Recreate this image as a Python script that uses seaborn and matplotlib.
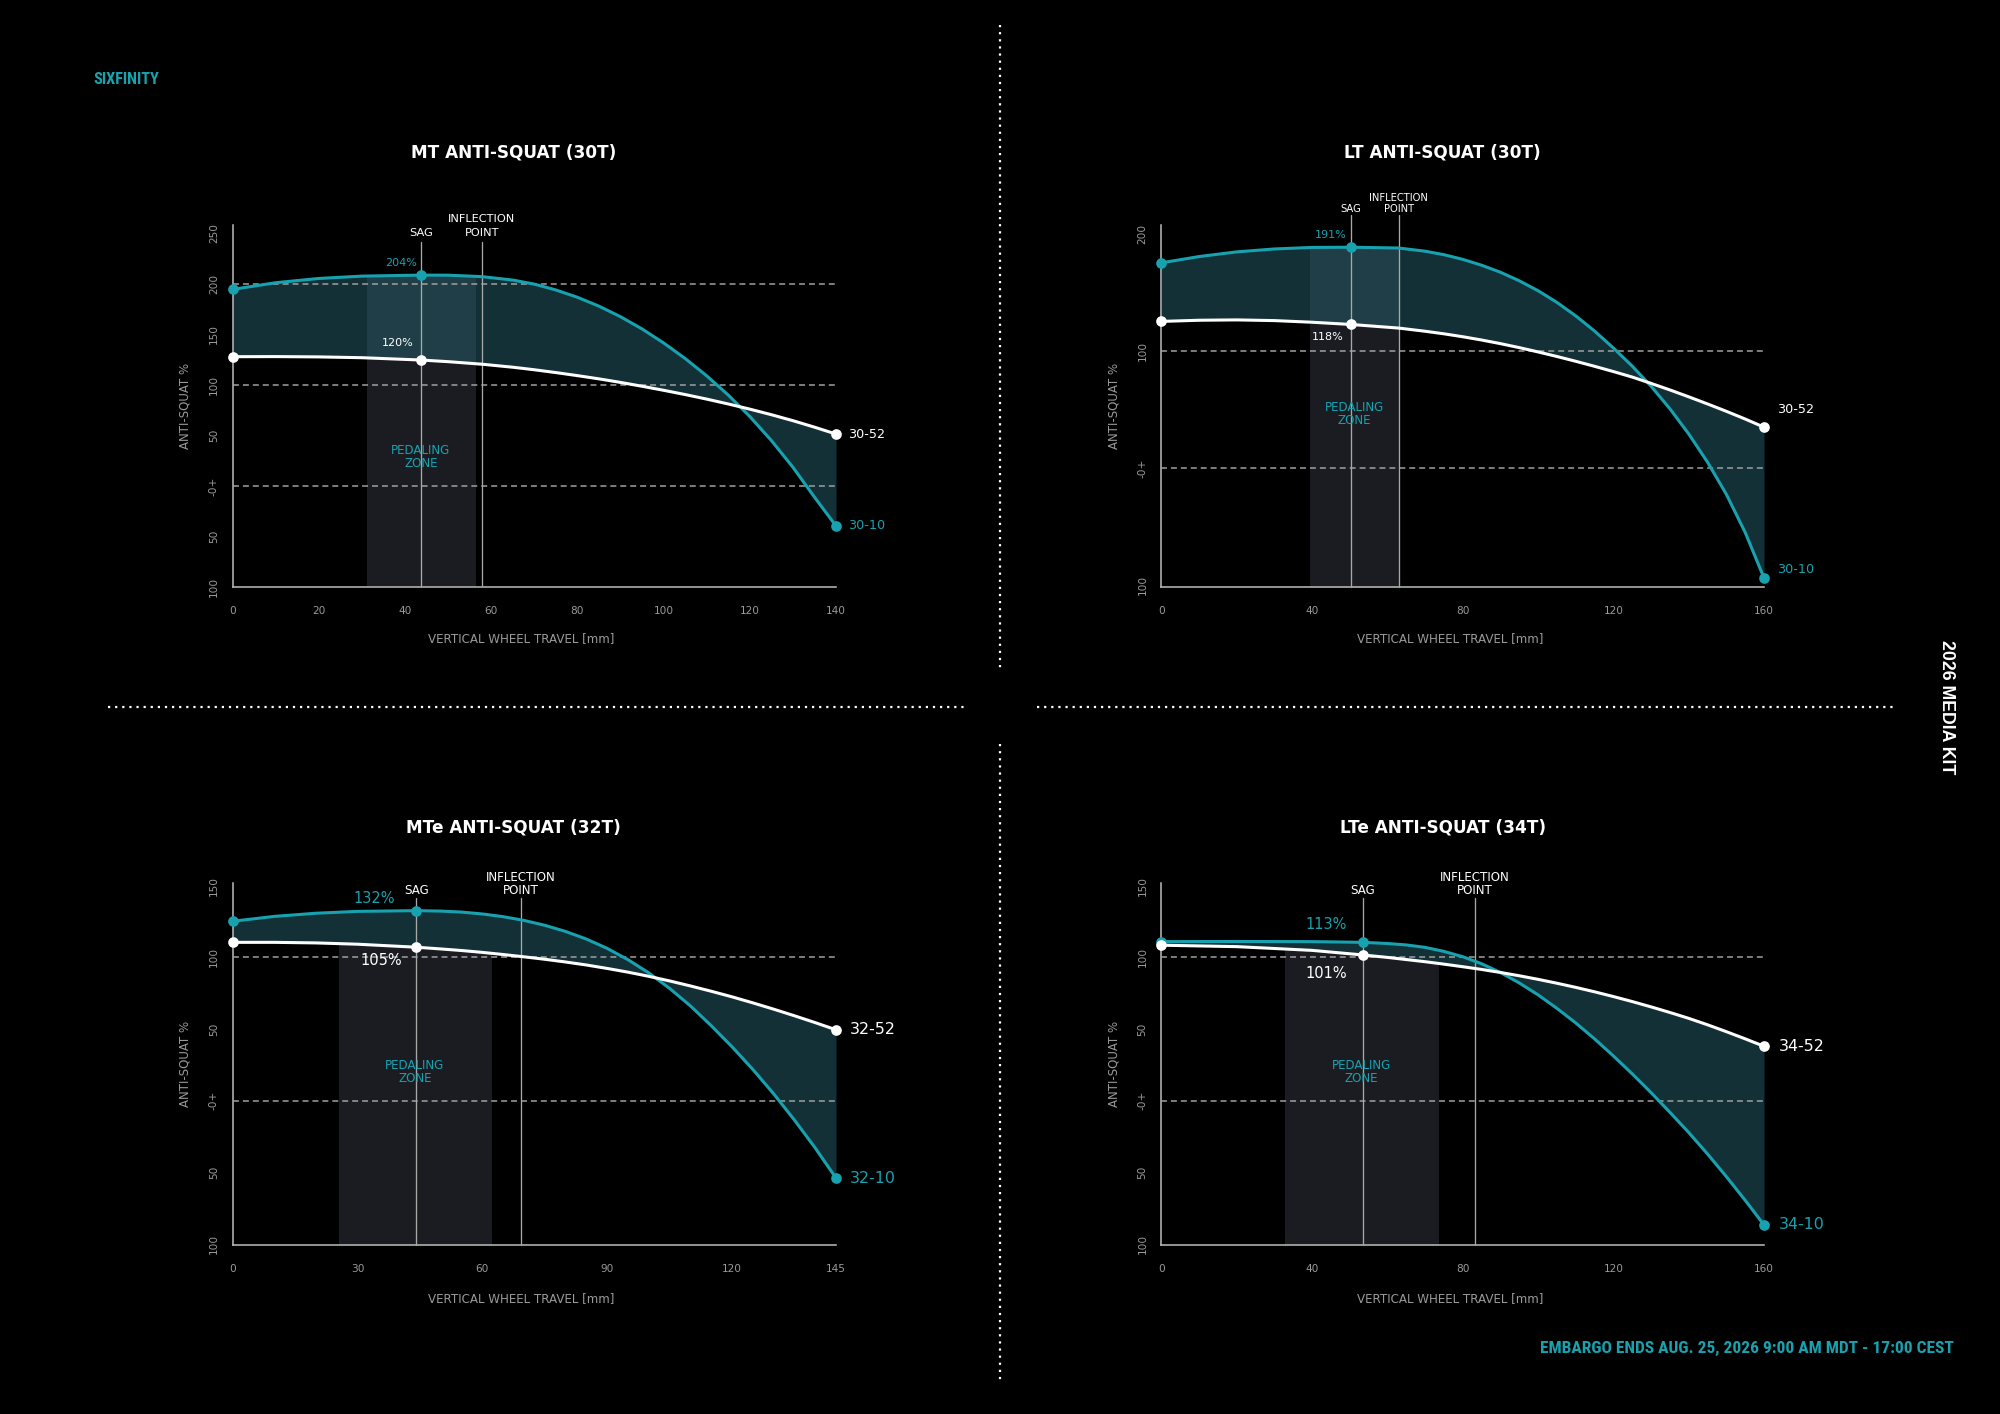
import matplotlib
matplotlib.use("Agg")
from matplotlib import pyplot as plt
from matplotlib import font_manager
from matplotlib.patches import Rectangle
import seaborn as sns
import pandas as pd

TEAL = "#18a2af"
BAND = "#26606e"
ZONE = "#1b1c21"
GRID = "#a0a0a0"
AXIS = "#bdbdbd"
MUTED = "#9a9a9a"
W, H = 2000, 1414

# ---------------- data ----------------
titles = ["MT ANTI-SQUAT (30T)", "LT ANTI-SQUAT (30T)",
          "MTe ANTI-SQUAT (32T)", "LTe ANTI-SQUAT (34T)"]

mt_travel = [0, 10, 20, 30, 43.7, 50, 57.8, 65, 70, 75, 80, 85, 90, 95, 100,
             105, 110, 115, 120, 125, 130, 135, 140]
mt_as_10 = [194.4, 201, 205.2, 207.5, 208.5, 208.4, 207.0, 203.6, 199.6, 193.8, 186.6, 177.8,
            167.4, 155.3, 141.5, 126.1, 109.0, 90.0, 68.8, 45.1, 18.7, -10.8, -39.3]
mt_as_52 = [127.9, 128.0, 127.7, 126.9, 124.6, 123.0, 120.5, 117.5, 115.0, 112.2, 109.2, 106.0,
            102.5, 98.7, 94.7, 90.5, 86.0, 81.2, 76.1, 70.6, 64.7, 58.3, 51.5]

lt_travel = [0, 10, 20, 30, 40, 50.3, 63, 70, 75, 80, 85, 90, 95, 100, 105, 110,
             115, 120, 125, 130, 135, 140, 145, 150, 155, 160]
lt_as_10 = [175.6, 181, 185, 187.5, 188.8, 189, 188.3, 185.6, 182.6, 178.6, 173.6, 167.6, 160.3,
            151.8, 141.8, 130.3, 117.3, 102.8, 87.3, 70.1, 50.8, 29.3, 5.1, -22.4, -55, -94]
lt_as_52 = [125.5, 126.5, 126.8, 126.2, 124.8, 122.9, 119.8, 117.1, 114.9, 112.4, 109.6, 106.5,
            103.1, 99.4, 95.5, 91.4, 87.1, 82.6, 77.9, 72.5, 66.9, 61.0, 54.9, 48.6, 42.0, 35.0]

mte_travel = [0, 10, 20, 30, 44.1, 50, 55, 60, 65, 70, 75, 80, 85, 90, 95, 100,
              105, 110, 115, 120, 125, 130, 135, 140, 145]
mte_as_10 = [125.1, 128.5, 130.7, 132, 132.5, 132.2, 131.5, 130.2, 128.3, 125.7, 122.3, 118,
             112.7, 106.2, 98.3, 89.1, 78.3, 66.1, 52.3, 37.6, 21.8, 4.8, -13.5, -33, -54]
mte_as_52 = [110.4, 110.4, 110.0, 109.1, 107, 105.8, 104.7, 103.4, 101.9, 100.3, 98.6, 96.7,
             94.6, 92.2, 89.6, 86.7, 83.5, 80, 76.3, 72.4, 68.2, 63.8, 59.2, 54.4, 49.4]

lte_travel = [0, 20, 40, 53.5, 60, 65, 70, 75, 80, 85, 90, 95, 100, 105, 110, 115,
              120, 125, 130, 135, 140, 145, 150, 155, 160]
lte_as_10 = [110.9, 111, 110.9, 110.4, 109.6, 108.6, 106.9, 104.1, 100.4, 95.5, 89.4, 82.1,
             73.8, 64.4, 54.2, 43.1, 31.2, 18.7, 5.6, -8.1, -22.2, -37.2, -53, -69.5, -86.7]
lte_as_52 = [108.4, 107.4, 104.8, 101.6, 99.9, 98.4, 96.9, 95.2, 93.4, 91.5, 89.4, 87.1,
             84.6, 81.9, 79, 75.9, 72.6, 69.1, 65.4, 61.5, 57.4, 52.9, 48.1, 43.1, 37.9]

travel = [mt_travel, lt_travel, mte_travel, lte_travel]
climb = [mt_as_10, lt_as_10, mte_as_10, lte_as_10]
power = [mt_as_52, lt_as_52, mte_as_52, lte_as_52]

sag_mm = [43.7, 50.3, 44.1, 53.5]
inflection_mm = [57.8, 63.0, 69.3, 83.2]
zone_start = [31.1, 39.5, 25.5, 32.8]
zone_end = [56.2, 63.0, 62.1, 73.4]
sag_climb_labels = ["204%", "191%", "132%", "113%"]
sag_power_labels = ["120%", "118%", "105%", "101%"]
climb_gear = ["30-10", "30-10", "32-10", "34-10"]
power_gear = ["30-52", "30-52", "32-52", "34-52"]
x_ticks = [[0, 20, 40, 60, 80, 100, 120, 140], [0, 40, 80, 120, 160],
           [0, 30, 60, 90, 120, 145], [0, 40, 80, 120, 160]]
y_ticks = [[250, 200, 150, 100, 50, 0, -50, -100], [200, 100, 0, -100],
           [150, 100, 50, 0, -50, -100], [150, 100, 50, 0, -50, -100]]
ref_lines = [[200, 100, 0], [100, 0], [100, 0], [100, 0]]

# ---------------- layout (pixels) ----------------
LAYOUT = [
    dict(box=(232.7, 225.0, 836.0, 587.4), ylim=(-99, 258), line_top=241.3, zone_full=True,
         mark_pt=8.2, mark_gap=13.7, mark_rise=6.3, pct_pt=8.0, gear_pt=9.2,
         climb_off=(-4, 12), power_off=(-7, 17), gear_dx=12, gear_dy=(0, 0),
         zone_v=29, title_xy=(514, 153), xlab=(0.478, -0.1245)),
    dict(box=(1161.4, 225.0, 1764.0, 587.3), ylim=(-102, 208), line_top=216.6, zone_full=True,
         mark_pt=7.2, mark_gap=10.6, mark_rise=3.3, pct_pt=8.0, gear_pt=9.2,
         climb_off=(-4, 12.7), power_off=(-7, -12.7), gear_dx=13, gear_dy=(8, 18),
         zone_v=46.4, title_xy=(1442, 153), xlab=(0.48, -0.1245)),
    dict(box=(232.7, 882.7, 836.0, 1245.0), ylim=(-100.7, 152), line_top=141.1, zone_full=False,
         mark_pt=8.6, mark_gap=12.7, mark_rise=4.3, pct_pt=10.5, gear_pt=11.4,
         climb_off=(-21, 12), power_off=(-14.6, -13), gear_dx=14, gear_dy=(0, 0),
         zone_v=19.7, title_xy=(513.5, 827.3), xlab=(0.478, -0.129)),
    dict(box=(1161.4, 882.7, 1764.0, 1245.0), ylim=(-100.7, 152), line_top=141.1, zone_full=False,
         mark_pt=8.6, mark_gap=12.7, mark_rise=4.3, pct_pt=10.5, gear_pt=11.4,
         climb_off=(-16, 18), power_off=(-16, -19), gear_dx=15, gear_dy=(0, 0),
         zone_v=19.7, title_xy=(1442.6, 827.3), xlab=(0.48, -0.129)),
]

sns.set_theme(style="white", rc={
    "figure.facecolor": "black", "axes.facecolor": "none",
    "savefig.facecolor": "black", "text.color": "white",
})
plt.rcParams["font.family"] = ["DejaVu Sans"]

names = {f.name for f in font_manager.fontManager.ttflist}
narrow = next((n for n in ["Liberation Sans Narrow", "Roboto Condensed", "Open Sans Condensed"]
               if n in names), "Liberation Sans")

fig = plt.figure(figsize=(W / 100, H / 100), dpi=100)
bg = fig.add_axes([0, 0, 1, 1], zorder=0)
bg.set_xlim(0, W)
bg.set_ylim(H, 0)
bg.axis("off")


def px_rect(box):
    l, t, r, b = box
    return [l / W, 1 - b / H, (r - l) / W, (b - t) / H]


def fit_width(txt, target):
    r = fig.canvas.get_renderer()
    ext = txt.get_window_extent(r)
    size = max(ext.width, ext.height)
    txt.set_fontsize(txt.get_fontsize() * target / size)


def draw_chart(i):
    lay = LAYOUT[i]
    ax = fig.add_axes(px_rect(lay["box"]), zorder=1)
    df = pd.DataFrame({"travel": travel[i], "climb": climb[i], "power": power[i]})
    xmax = df["travel"].max()
    y0, y1 = lay["ylim"]

    # pedaling zone, clipped to its travel span
    top = df[["climb", "power"]].max(axis=1) if lay["zone_full"] else df["power"]
    zone = ax.fill_between(df["travel"], y0, top, color=ZONE, lw=0, zorder=1)
    clip = Rectangle((zone_start[i], y0), zone_end[i] - zone_start[i], y1 - y0,
                     transform=ax.transData)
    zone.set_clip_path(clip)

    ax.fill_between(df["travel"], df["climb"], df["power"], color=BAND, alpha=0.5,
                    lw=0, zorder=2)

    for v in ref_lines[i]:
        ax.plot([0, xmax], [v, v], color=GRID, lw=1.1, dashes=(3.9, 2.6), zorder=3)

    for xm in (sag_mm[i], inflection_mm[i]):
        ax.plot([xm, xm], [y0, lay["line_top"]], color="#a8a8a8", lw=0.95,
                zorder=3, clip_on=False)

    sns.lineplot(data=df, x="travel", y="climb", ax=ax, color=TEAL, lw=2.2,
                 estimator=None, sort=False, zorder=4)
    sns.lineplot(data=df, x="travel", y="power", ax=ax, color="white", lw=2.2,
                 estimator=None, sort=False, zorder=4)

    k = travel[i].index(sag_mm[i])
    pick = [0, k, len(travel[i]) - 1]
    dots = df.iloc[pick]
    sns.scatterplot(x=dots["travel"], y=dots["climb"], ax=ax, color=TEAL, s=59,
                    linewidth=0, zorder=5, clip_on=False)
    sns.scatterplot(x=dots["travel"], y=dots["power"], ax=ax, color="white", s=59,
                    linewidth=0, zorder=5, clip_on=False)

    # sag values
    ax.annotate(sag_climb_labels[i], (sag_mm[i], climb[i][k]), xytext=lay["climb_off"],
                textcoords="offset pixels", ha="right", va="center", color=TEAL,
                fontsize=lay["pct_pt"], zorder=6)
    ax.annotate(sag_power_labels[i], (sag_mm[i], power[i][k]), xytext=lay["power_off"],
                textcoords="offset pixels", ha="right", va="center", color="white",
                fontsize=lay["pct_pt"], zorder=6)

    # gear labels at end of travel
    ax.annotate(climb_gear[i], (xmax, climb[i][-1]), xytext=(lay["gear_dx"], lay["gear_dy"][0]),
                textcoords="offset pixels", ha="left", va="center", color=TEAL,
                fontsize=lay["gear_pt"], annotation_clip=False)
    ax.annotate(power_gear[i], (xmax, power[i][-1]), xytext=(lay["gear_dx"], lay["gear_dy"][1]),
                textcoords="offset pixels", ha="left", va="center", color="white",
                fontsize=lay["gear_pt"], annotation_clip=False)

    # SAG / INFLECTION POINT marks
    rise = lay["mark_rise"]
    gap = lay["mark_gap"]
    ax.annotate("SAG", (sag_mm[i], lay["line_top"]), xytext=(0, rise),
                textcoords="offset pixels", ha="center", va="baseline",
                fontsize=lay["mark_pt"], color="white", annotation_clip=False)
    ax.annotate("POINT", (inflection_mm[i], lay["line_top"]), xytext=(0, rise),
                textcoords="offset pixels", ha="center", va="baseline",
                fontsize=lay["mark_pt"], color="white", annotation_clip=False)
    ax.annotate("INFLECTION", (inflection_mm[i], lay["line_top"]), xytext=(0, rise + gap),
                textcoords="offset pixels", ha="center", va="baseline",
                fontsize=lay["mark_pt"], color="white", annotation_clip=False)

    ax.text((zone_start[i] + zone_end[i]) / 2, lay["zone_v"], "PEDALING\nZONE",
            ha="center", va="center", color=TEAL, fontsize=8.6, linespacing=1.0, zorder=6)

    ax.set_xlim(0, xmax)
    ax.set_ylim(y0, y1)
    ax.set_xticks(x_ticks[i])
    ax.set_xticklabels([str(t) for t in x_ticks[i]])
    ax.set_yticks(y_ticks[i])
    ax.set_yticklabels(["-0+" if t == 0 else str(abs(t)) for t in y_ticks[i]],
                       rotation=90, va="center")
    ax.tick_params(axis="both", length=0, labelsize=7.6, labelcolor=MUTED)
    ax.tick_params(axis="y", pad=10)
    ax.tick_params(axis="x", pad=13.5)
    ax.set_xlabel("VERTICAL WHEEL TRAVEL [mm]", fontsize=8.6, color=MUTED)
    ax.xaxis.set_label_coords(*lay["xlab"])
    ax.xaxis.label.set_va("top")
    ax.set_ylabel("ANTI-SQUAT %", fontsize=8.5, color=MUTED)
    ax.yaxis.set_label_coords(-0.079, 0.5)
    ax.yaxis.label.set_va("center")
    sns.despine(ax=ax)
    for side in ("left", "bottom"):
        ax.spines[side].set_color(AXIS)
        ax.spines[side].set_linewidth(1.1)
    ax.grid(False)

    bg.text(*lay["title_xy"], titles[i], ha="center", va="center", color="white",
            fontsize=12.2, fontweight="bold")


for i in range(4):
    draw_chart(i)

# page furniture: dotted dividers
dots_kw = dict(color="white", lw=1.6, dashes=(1.0, 2.2), dash_capstyle="butt")
bg.plot([1000, 1000], [25, 669], **dots_kw)
bg.plot([1000, 1000], [744, 1384], **dots_kw)
bg.plot([108, 966], [707, 707], **dots_kw)
bg.plot([1037, 1896], [707, 707], **dots_kw)

brand = bg.text(93, 80, "SIXFINITY", ha="left", va="center", color=TEAL,
                fontsize=11, fontweight="bold", family=narrow)
fit_width(brand, 66)
embargo = bg.text(1954, 1348, "EMBARGO ENDS AUG. 25, 2026 9:00 AM MDT - 17:00 CEST",
                  ha="right", va="center", color=TEAL, fontsize=13, fontweight="bold",
                  family=narrow)
fit_width(embargo, 411)
kit = bg.text(1947, 707.5, "2026 MEDIA KIT", ha="center", va="center", color="white",
              rotation=270, fontsize=13, fontweight="bold", family="Liberation Sans")
fit_width(kit, 135)

fig.savefig("out.png", dpi=100, facecolor="black")
